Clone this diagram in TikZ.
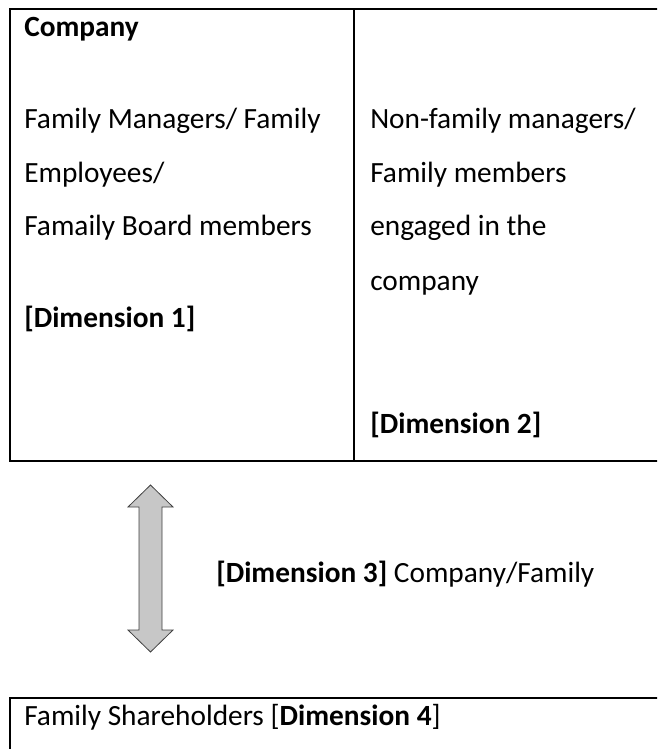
\documentclass[tikz,border=0pt]{standalone}
\usepackage{fontspec}
\setmainfont{Carlito}
\begin{document}
\begin{tikzpicture}[x=0.75pt,y=-0.75pt,
  txt/.style={anchor=base west,inner sep=0pt,font=\fontsize{22}{26}\selectfont},
  rule/.style={draw=black,line width=1.5pt},
  dimarrow/.style={draw=black!75,line width=0.6pt,fill=black!22}]
\useasboundingbox (0,0) rectangle (657,749);
\clip (0,0) rectangle (657,749);
% company table
\draw[rule] (10,9) rectangle (720,461);
\draw[rule] (354,9) -- (354,461);
% left column
\node[txt] (comp) at (24,37) {\bfseries Company};
\node[txt] (l1) at (24,128) {Family Managers/ Family};
\node[txt] (l2) at (24,182) {Employees/};
\node[txt] (l3) at (24,235) {Famaily Board members};
\node[txt] (d1) at (24,327) {\bfseries [Dimension 1]};
% right column
\node[txt] (r1) at (370,128) {Non-family managers/};
\node[txt] (r2) at (370,182) {Family members};
\node[txt] (r3) at (370,235) {engaged in the};
\node[txt] (r4) at (370,290) {company};
\node[txt] (d2) at (370,433) {\bfseries [Dimension 2]};
% double arrow between company and family
\draw[dimarrow] (150.5,485) -- (173,507) -- (162,507) -- (162,630) -- (173,630)
  -- (150.5,652) -- (128,630) -- (139,630) -- (139,507) -- (128,507) -- cycle;
\node[txt] (d3) at (216,582) {\textbf{[Dimension 3]} Company/Family};
% shareholders box
\draw[rule] (10,698) rectangle (720,800);
\node[txt] (d4) at (24,725) {Family Shareholders [\textbf{Dimension 4}]};
\end{tikzpicture}
\end{document}
